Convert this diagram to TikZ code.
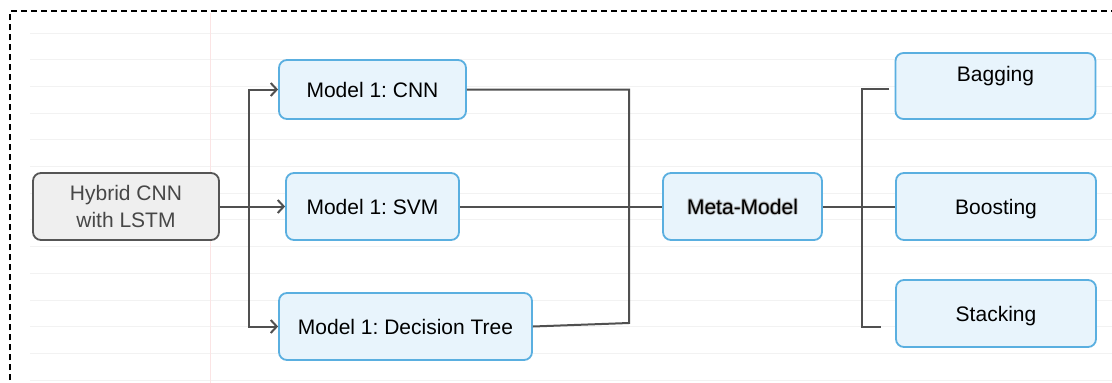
\documentclass[tikz,border=0pt]{standalone}
\usepackage{fontspec}
\setmainfont{Liberation Sans}
\usetikzlibrary{arrows.meta}
\frenchspacing
\definecolor{boxblue}{HTML}{E8F4FC}
\definecolor{edgeblue}{HTML}{5AAFE0}
\definecolor{boxgray}{HTML}{EFEFEF}
\definecolor{edgegray}{HTML}{555555}
\definecolor{wire}{HTML}{505050}
\definecolor{rule}{HTML}{F2F2F2}
\definecolor{margin}{HTML}{FBE4E4}
\tikzset{
  base/.style={rectangle, rounded corners=8pt, line width=1.8pt, inner sep=0pt,
    font=\fontsize{21}{27}\selectfont, align=center},
  oneline/.style={text height=15pt, text depth=0pt},
  bluebox/.style={base, draw=edgeblue, fill=boxblue, text=black},
  graybox/.style={base, draw=edgegray, fill=boxgray, text=black!72},
  wirestyle/.style={draw=wire, line width=2pt},
  arr/.style={wirestyle, -{Straight Barb[length=6pt,width=13pt,line width=2pt]}},
}
\begin{document}
\begin{tikzpicture}[x=1pt,y=-1pt]
\useasboundingbox (0,0) rectangle (1112,383);
\fill[white] (0,0) rectangle (1112,383);
% ruled paper background
\foreach \k in {0,...,13}
  \draw[rule, line width=1pt] (30,{33+26.7*\k}) -- (1112,{33+26.7*\k});
\draw[margin, line width=1pt] (210,13) -- (210,383);
% dashed frame
\draw[black, line width=1.8pt, dash pattern=on 6pt off 4pt]
  (10,400) -- (10,11) -- (1130,11);

% nodes
\node[graybox, minimum width=186pt, minimum height=67pt] (hyb) at (126,206.5) {\raisebox{-2pt}{Hybrid CNN}\\\raisebox{-2pt}{with LSTM}};
\node[bluebox, oneline, minimum width=187pt, minimum height=59pt] (cnn) at (372.5,89.5) {Model 1: CNN};
\node[bluebox, oneline, minimum width=173pt, minimum height=67pt] (svm) at (372.5,206.5) {Model 1: SVM};
\node[bluebox, oneline, minimum width=253pt, minimum height=67pt] (dt) at (405.5,326.5) {Model 1: Decision Tree};
\node[bluebox, minimum width=159pt, minimum height=67pt] (meta) at (742.5,206.5) {};
\foreach \dx/\dy in {-1/0,1/0,0/-1,0/1,-0.7/-0.7,0.7/0.7,-0.7/0.7,0.7/-0.7}
  \node[font=\fontsize{21}{27}\selectfont, oneline, text=black!35, opacity=0.5] at ([xshift=\dx pt,yshift=\dy pt]meta.center) {Meta-Model};
\node[font=\fontsize{21}{27}\selectfont, oneline] (metatext) at (meta.center) {Meta-Model};
\node[bluebox, oneline, minimum width=200pt, minimum height=66pt] (bag) at (995.5,86) {};
\node[font=\fontsize{21}{27}\selectfont, oneline] (bagtext) at (995.5,74) {Bagging};
\node[bluebox, oneline, minimum width=200pt, minimum height=67pt] (boost) at (996,206.5) {Boosting};
\node[bluebox, oneline, minimum width=200pt, minimum height=67pt] (stack) at (996,313.5) {Stacking};

% fan-out from the hybrid model
\coordinate (split) at (249,206.5);
\draw[arr] (hyb.east) -- (svm.west);
\draw[arr] (split) |- (cnn.west);
\draw[arr] (split) |- (dt.west);

% merge into the meta-model
\coordinate (jtop) at (629,89.5);
\coordinate (jbot) at (629,323);
\draw[wirestyle] (cnn.east) -- (jtop) -- (jbot) -- (dt.east);
\draw[wirestyle] (svm.east) -- (meta.west);

% ensemble methods
\coordinate (etop) at (862,89);
\coordinate (ebot) at (862,327);
\coordinate (btop) at (889,89);
\coordinate (sbot) at (881,327);
\draw[wirestyle] (meta.east) -- (boost.west);
\draw[wirestyle] (btop) -- (etop) -- (ebot) -- (sbot);
\end{tikzpicture}
\end{document}
